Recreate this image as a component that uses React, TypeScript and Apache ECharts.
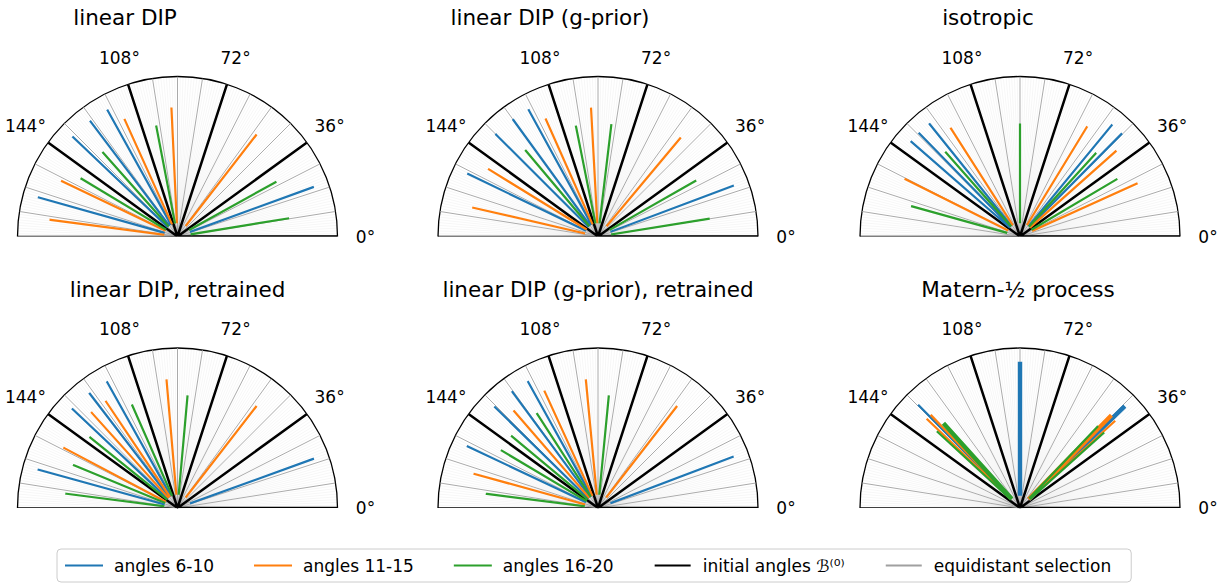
import React, { useEffect, useRef } from 'react';
import * as echarts from 'echarts';

const FONT = "'DejaVu Sans', 'Noto Sans', sans-serif";

// ---- data ----
const TITLES = [
  'linear DIP',
  'linear DIP (g-prior)',
  'isotropic',
  'linear DIP, retrained',
  'linear DIP (g-prior), retrained',
  'Matern-½ process',
];

const GROUP_NAMES = ['angles 6-10', 'angles 11-15', 'angles 16-20'];
const INITIAL_NAME = 'initial angles ℬ⁽⁰⁾';
const EQUI_NAME = 'equidistant selection';

// selected angles (degrees) per subplot; a repeated angle means it was chosen twice
const ANGLES_6_10 = [
  [164.3, 136.4, 127.1, 119.0, 20.0],
  [154.3, 135.0, 126.0, 118.7, 20.6],
  [138.9, 134.3, 128.8, 50.5, 45.3],
  [164.6, 136.7, 127.5, 119.2, 19.9],
  [154.7, 135.6, 126.4, 119.0, 20.8],
  [134.6, 90.0, 90.0, 44.2, 44.2],
];
const ANGLES_11_15 = [
  [172.5, 154.4, 114.3, 92.7, 52.2],
  [167.0, 148.4, 114.0, 93.1, 50.1],
  [153.4, 122.6, 58.6, 41.7, 24.4],
  [152.1, 132.0, 123.9, 94.9, 52.2],
  [164.6, 130.9, 114.6, 95.4, 52.2],
  [136.3, 133.8, 45.4, 45.4, 42.5],
];
const ANGLES_16_20 = [
  [149.0, 131.6, 100.9, 29.0, 9.3],
  [130.1, 101.3, 83.2, 29.7, 9.1],
  [164.4, 131.4, 90.0, 47.7, 30.6],
  [172.7, 157.6, 141.1, 113.8, 84.9],
  [172.8, 149.2, 140.2, 122.9, 84.5],
  [137.3, 132.1, 132.1, 46.4, 41.9],
];
const GROUP_RADII = [0.9, 0.8, 0.7];
const INNER_RADIUS = 0.09;

const INITIAL_ANGLES = [0, 36, 72, 108, 144];
const EQUIDISTANT_ANGLES = [0, 9, 18, 27, 36, 45, 54, 63, 72, 81, 90, 99, 108, 117, 126, 135, 144, 153, 162, 171];
const TICK_ANGLES = [0, 36, 72, 108, 144];

// ---- layout / style ----
const COLORS = ['#1f77b4', '#ff7f0e', '#2ca02c'];
const CENTERS_X = [177.5, 598, 1020];
const CENTERS_Y = [236.5, 508];
const TITLE_X = [125, 550, 988, 177.5, 598, 1018];
const TITLE_Y = [17, 289];
const RADIUS = 160;
const LABEL_R = 1.175;

function segments(angles: number[], r0: number, r1: number) {
  const d: any[] = [];
  angles.forEach((a, k) => {
    if (k) d.push(['-', '-']);
    d.push([r0, a], [r1, a]);
  });
  return d;
}

function lineSeries(name: string | undefined, polarIndex: number, data: any[], color: string, width: number, z: number, cap = 'butt') {
  const s: any = {
    type: 'line',
    coordinateSystem: 'polar',
    polarIndex,
    data,
    symbol: 'none',
    connectNulls: false,
    silent: true,
    z,
    lineStyle: { color, width, cap },
    itemStyle: { color },
  };
  if (name) s.name = name;
  return s;
}

const App = () => {
  const ref = useRef<HTMLDivElement>(null);
  useEffect(() => {
    document.body.style.margin = '0';
    const chart = echarts.init(ref.current!, null, { renderer: 'svg' });
    const polar: any[] = [];
    const angleAxis: any[] = [];
    const radiusAxis: any[] = [];
    const series: any[] = [];
    const graphic: any[] = [];
    const groups = [ANGLES_6_10, ANGLES_11_15, ANGLES_16_20];

    TITLES.forEach((title, i) => {
      const cx = CENTERS_X[i % 3];
      const cy = CENTERS_Y[Math.floor(i / 3)];
      polar.push({ center: [cx, cy], radius: RADIUS });
      angleAxis.push({
        polarIndex: i,
        type: 'value',
        min: 0,
        max: 180,
        interval: 9,
        startAngle: 0,
        endAngle: 180,
        clockwise: false,
        axisLine: { show: true, lineStyle: { color: '#000', width: 1.3 } },
        axisTick: { show: false },
        splitLine: { show: false },
        minorTick: { show: false, splitNumber: 9 },
        minorSplitLine: { show: true, lineStyle: { color: 'rgba(0,0,0,0.07)', width: 0.5 } },
        axisLabel: { show: false },
      });
      radiusAxis.push({
        polarIndex: i,
        type: 'value',
        min: 0,
        max: 1,
        axisLine: { show: false },
        axisTick: { show: false },
        axisLabel: { show: false },
        splitLine: { show: false },
      });
      // diameter boundary
      series.push(lineSeries(undefined, i, [[1, 180], [1, 0]], '#000', 1.3, 2));
      series.push(lineSeries(EQUI_NAME, i, segments(EQUIDISTANT_ANGLES, 0, 1), '#a0a0a0', 0.9, 3));
      series.push(lineSeries(INITIAL_NAME, i, segments(INITIAL_ANGLES, 0, 1), '#000', 2.5, 4));
      groups.forEach((g, gi) => {
        const counts = new Map<number, number>();
        g[i].forEach((a) => counts.set(a, (counts.get(a) || 0) + 1));
        const byCount = new Map<number, number[]>();
        counts.forEach((c, a) => {
          if (!byCount.has(c)) byCount.set(c, []);
          byCount.get(c)!.push(a);
        });
        Array.from(byCount.keys()).sort().forEach((c) => {
          series.push(
            lineSeries(GROUP_NAMES[gi], i, segments(byCount.get(c)!, INNER_RADIUS, GROUP_RADII[gi]), COLORS[gi], 2.2 * c, 5, 'square')
          );
        });
      });
      graphic.push({
        type: 'text',
        id: 'title' + i,
        x: TITLE_X[i],
        y: TITLE_Y[Math.floor(i / 3)],
        style: {
          text: title,
          fontSize: 21.5,
          fontFamily: FONT,
          fill: '#000',
          align: 'center',
          verticalAlign: 'middle',
        },
      });
    });

    chart.setOption({
      animation: false,
      backgroundColor: '#fff',
      polar,
      angleAxis,
      radiusAxis,
      series,
      graphic,
      legend: {
        data: [...GROUP_NAMES, INITIAL_NAME, EQUI_NAME],
        left: 57,
        top: 549,
        orient: 'horizontal',
        itemWidth: 36,
        itemHeight: 14,
        itemGap: 40,
        padding: [8, 20, 8, 8],
        borderColor: '#cccccc',
        borderWidth: 1,
        borderRadius: 4,
        selectedMode: false,
        itemStyle: { color: 'rgba(0,0,0,0)', borderWidth: 0, opacity: 0 },
        textStyle: { fontSize: 17, fontFamily: FONT, color: '#000', padding: [0, 0, 0, 7] },
      },
    });

    // tick labels placed through each polar's own scales
    const labels: any[] = [];
    TITLES.forEach((_, i) => {
      TICK_ANGLES.forEach((a) => {
        const p = chart.convertToPixel({ polarIndex: i } as any, [LABEL_R, a]) as number[];
        if (!p) return;
        labels.push({
          type: 'text',
          id: `tick${i}_${a}`,
          x: p[0],
          y: p[1],
          style: {
            text: a + '°',
            fontSize: 17,
            fontFamily: FONT,
            fill: '#000',
            align: 'center',
            verticalAlign: 'middle',
          },
        });
      });
    });
    chart.setOption({ graphic: labels });
    return () => chart.dispose();
  }, []);
  return <div ref={ref} style={{ position: 'absolute', left: 0, top: 0, width: 1227, height: 588 }} />;
};

export default App;
